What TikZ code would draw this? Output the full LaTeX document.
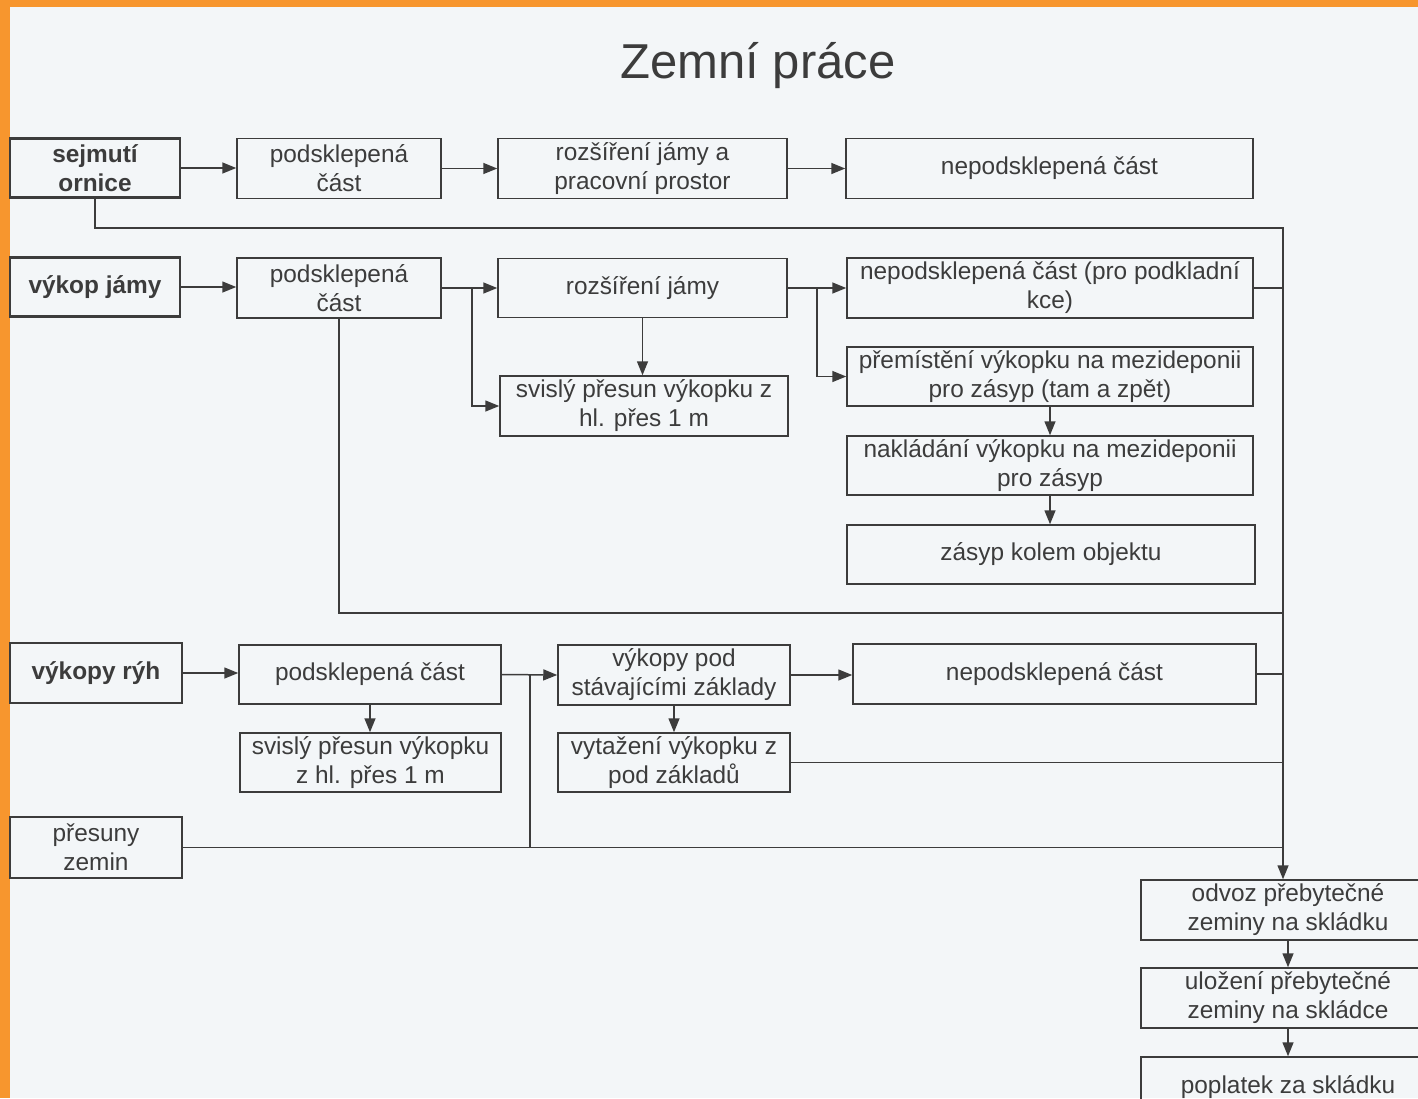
\documentclass[tikz,border=0pt]{standalone}
\usepackage{fontspec}
\setmainfont{Liberation Sans}
\usetikzlibrary{arrows.meta}
\definecolor{orng}{RGB}{247,150,46}
\definecolor{paper}{RGB}{243,246,248}
\definecolor{ink}{RGB}{60,60,60}
\tikzset{
  bx/.style={draw=ink, line width=0.75pt, text=ink, align=center, inner sep=0pt,
    font=\fontsize{12.2}{14.5}\selectfont},
  lbx/.style={bx, line width=1.1pt, font=\fontsize{12.2}{14.5}\selectfont\bfseries},
  arr/.style={draw=ink, line width=0.75pt, -{Triangle[length=7pt,width=5.5pt]}},
  ln/.style={draw=ink, line width=0.75pt}
}
\begin{document}
\begin{tikzpicture}[x=0.5pt,y=-0.5pt]
\useasboundingbox (0,0) rectangle (1418,1098);
\clip (0,0) rectangle (1418,1098);
\fill[paper] (0,0) rectangle (1418,1098);
\fill[orng] (0,0) rectangle (10,1098);
\fill[orng] (0,0) rectangle (1418,7);

\node[text=ink, font=\fontsize{24.5}{28}\selectfont] (title) at (758,66) {Zemní práce};

% left column
\node[lbx, minimum width=85pt, minimum height=29.5pt] (s1) at (95,168) {sejmutí\\ornice};
\node[lbx, minimum width=85pt, minimum height=29.5pt] (s2) at (95,287) {výkop jámy};
\node[lbx, minimum width=86pt, minimum height=30pt] (s3) at (96,673) {výkopy rýh};
\node[bx, line width=1.1pt, minimum width=86pt, minimum height=30.5pt] (s4) at (96,847.5) {přesuny\\zemin};

% row 1
\node[bx, minimum width=102pt, minimum height=30pt] (p1) at (339,168.5) {podsklepená\\část};
\node[bx, minimum width=144.5pt, minimum height=30pt] (r1) at (642.5,168.5) {rozšíření jámy a\\pracovní prostor};
\node[bx, minimum width=203.5pt, minimum height=30pt] (n1) at (1049.5,168.5) {nepodsklepená část};

% row 2
\node[bx, minimum width=102pt, minimum height=30pt] (p2) at (339,288) {podsklepená\\část};
\node[bx, minimum width=144.5pt, minimum height=29.5pt] (r2) at (642.5,288) {rozšíření jámy};
\node[bx, minimum width=144pt, minimum height=30pt] (sv2) at (644,406) {svislý přesun výkopku z\\hl. přes 1 m};
\node[bx, minimum width=203pt, minimum height=30pt] (n2) at (1050,288) {nepodsklepená část (pro podkladní\\kce)};
\node[bx, minimum width=203pt, minimum height=29.5pt] (pm) at (1050,376.5) {přemístění výkopku na mezideponii\\pro zásyp (tam a zpět)};
\node[bx, minimum width=203pt, minimum height=29.5pt] (nk) at (1050,465.5) {nakládání výkopku na mezideponii\\pro zásyp};
\node[bx, minimum width=204pt, minimum height=29.5pt] (zs) at (1051,554.5) {zásyp kolem objektu};

% row 3
\node[bx, minimum width=131pt, minimum height=29.5pt] (p3) at (370,674.5) {podsklepená část};
\node[bx, minimum width=130.5pt, minimum height=29.5pt] (sv3) at (370.5,762.5) {svislý přesun výkopku\\z hl. přes 1 m};
\node[bx, minimum width=116pt, minimum height=30pt] (vp) at (674,675) {výkopy pod\\stávajícími základy};
\node[bx, minimum width=116pt, minimum height=29.5pt] (vt) at (674,762.5) {vytažení výkopku z\\pod základů};
\node[bx, minimum width=201.5pt, minimum height=30pt] (n3) at (1054.5,674) {nepodsklepená část};

% bottom right
\node[bx, minimum width=147pt, minimum height=30pt] (od) at (1288,910) {odvoz přebytečné\\zeminy na skládku};
\node[bx, minimum width=147pt, minimum height=30pt] (ul) at (1288,998) {uložení přebytečné\\zeminy na skládce};
\node[bx, minimum width=147pt, minimum height=30pt] (po) at (1288,1087) {poplatek za skládku};

% bus coordinates
\coordinate (tr) at (1283,228);
\coordinate (j2) at (1283,613);
\coordinate (b1) at (472,288);
\coordinate (b2) at (817,288);
\coordinate (b3) at (530,674.5);

% row 1 connectors
\draw[arr] (s1.east) -- (s1.east -| p1.west);
\draw[arr] (p1.east) -- (r1.west);
\draw[arr] (r1.east) -- (n1.west);
\draw[arr] (s1.south) |- (tr) -- (tr |- od.north);

% row 2 connectors
\draw[arr] (s2.east) -- (s2.east -| p2.west);
\draw[arr] (p2.east) -- (r2.west);
\draw[arr] (b1) |- (sv2.west);
\draw[arr] (r2.south) -- (r2.south |- sv2.north);
\draw[arr] (r2.east) -- (n2.west);
\draw[arr] (b2) |- (pm.west);
\draw[arr] (pm.south) -- (pm.south |- nk.north);
\draw[arr] (nk.south) -- (nk.south |- zs.north);
\draw[ln] (n2.east) -- (tr |- n2.east);
\draw[ln] (p2.south) |- (j2);

% row 3 connectors
\draw[arr] (s3.east) -- (s3.east -| p3.west);
\draw[arr] (p3.south) -- (p3.south |- sv3.north);
\draw[arr] (p3.east) -- (vp.west);
\draw[ln] (b3) -- (b3 |- s4.east);
\draw[arr] (vp.south) -- (vp.south |- vt.north);
\draw[arr] (vp.east) -- (vp.east -| n3.west);
\draw[ln] (n3.east) -- (tr |- n3.east);
\draw[ln] (vt.east) -- (tr |- vt.east);
\draw[ln] (s4.east) -- (tr |- s4.east);

% bottom chain
\draw[arr] (od.south) -- (ul.north);
\draw[arr] (ul.south) -- (po.north);
\end{tikzpicture}
\end{document}
